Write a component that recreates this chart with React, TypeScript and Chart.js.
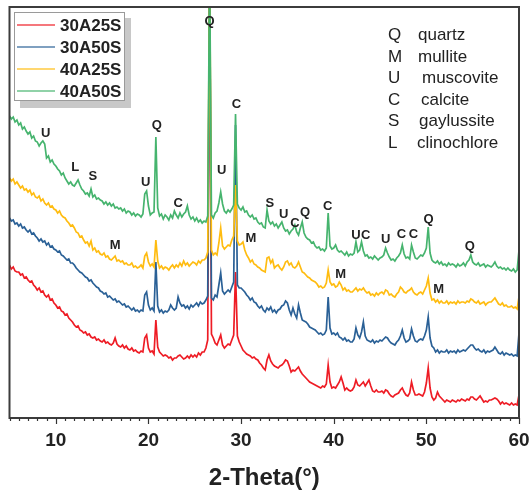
import { useEffect, useRef } from 'react';
import { Chart, registerables } from 'chart.js';

Chart.register(...registerables);

// 2-Theta sampling grid: 5.0 .. 60.0 in 0.2 degree steps (276 points)
const twoTheta: number[] = Array.from({ length: 276 }, (_, i) => Math.round((5 + i * 0.2) * 10) / 10);

const seriesNames = ['30A25S', '30A50S', '40A25S', '40A50S'];
const seriesColors = ['#EE1C25', '#2A6096', '#FFBC10', '#46B46E'];

// intensities (a.u.), one value per grid point
const i30A25S = [
  153,149,151,147,146, 146,143,144,140,141, 138,136,137,133,131, 128,130,126,127,123, 121,123,118,119,115,
  113,110,111,107,106, 103,104,100,98,96, 93,91,92,88,87, 85,86,83,84,81, 80,81,78,79,77,
  76,78,75,76,74, 73,75,80,74,72, 71,73,70,72,69, 68,70,67,68,66, 65,67,66,80,83,
  70,66,67,64,98, 71,66,64,62,63, 62,60,61,58,60, 60,62,63,61,59, 60,62,60,63,61,
  63,61,65,63,66, 66,70,78,460,84, 80,75,73,78,83, 73,70,72,74,73, 78,83,146,82,76,
  72,68,66,64,63, 62,60,61,59,58, 55,53,50,48,58, 63,57,54,52,51, 50,52,53,55,58,
  57,52,46,48,47, 49,51,47,44,42, 40,38,36,35,34, 33,32,31,30,32, 31,34,53,36,30,
  31,30,33,36,41, 35,28,30,28,27, 28,31,38,33,32, 34,36,32,35,38, 32,27,26,28,26,
  26,27,25,28,27, 24,22,21,23,24, 25,28,30,26,23, 22,25,36,28,23, 23,24,23,22,26,
  35,50,30,21,18, 20,26,22,20,18, 16,18,17,16,18, 17,16,18,17,19, 18,17,19,18,21,
  21,19,18,20,22, 19,16,17,16,18, 18,19,20,19,17, 14,16,14,15,14, 13,15,13,14,13,
  23,
];

const i30A50S = [
  200,197,198,194,195, 192,194,190,191,188, 186,188,184,185,182, 180,177,179,176,177, 173,175,171,172,169,
  168,166,167,163,162, 160,158,159,155,155, 153,150,148,146,145, 143,141,140,137,138, 135,133,131,130,127,
  126,124,125,121,122, 120,118,119,116,117, 115,113,114,111,112, 110,108,110,107,108, 106,108,107,123,126,
  113,108,110,107,156, 112,106,108,105,107, 106,108,113,110,108, 110,121,115,112,113, 110,112,109,113,111,
  113,115,112,116,114, 115,118,122,460,120, 118,123,121,133,145, 127,124,126,128,126, 131,136,293,133,130,
  130,128,126,123,121, 118,120,116,115,112, 110,112,108,106,110, 108,111,106,108,105, 108,109,112,113,117,
  115,108,103,110,104, 100,113,105,98,97, 96,94,91,90,89, 88,86,84,85,83, 84,88,121,90,84,
  85,83,85,81,80, 78,80,77,78,76, 76,79,90,83,80, 86,96,82,78,77, 76,78,75,77,76,
  78,77,79,81,80, 77,75,74,73,76, 78,82,88,80,76, 77,79,89,82,77, 76,78,79,78,82,
  88,101,80,72,70, 66,68,65,67,66, 66,68,65,67,66, 67,65,68,66,67, 68,67,69,71,73,
  73,70,68,69,67, 66,68,65,67,66, 67,68,71,68,65, 64,66,63,65,64, 63,64,62,63,62,
  85,
];

const i40A25S = [
  240,237,239,234,236, 233,230,232,228,229, 226,228,223,225,221, 220,222,217,219,215, 213,215,211,212,209,
  208,205,207,203,201, 200,197,195,192,193, 190,186,185,181,182, 178,175,176,172,177, 168,170,166,167,164,
  163,165,161,162,159, 158,160,162,157,158, 156,157,154,155,153, 153,155,151,152,150, 151,153,150,162,165,
  156,152,154,151,178, 157,150,152,149,151, 150,148,151,153,150, 153,151,155,152,157, 153,155,152,154,156,
  155,153,157,155,158, 158,160,166,460,168, 163,165,163,175,190, 172,169,171,173,172, 178,182,233,177,173,
  174,176,168,163,160, 156,158,154,153,151, 150,148,147,146,160, 161,155,158,150,152, 153,150,148,151,156,
  157,153,155,151,150, 152,156,151,146,145, 143,141,140,138,137, 136,134,131,132,130, 131,135,148,136,133,
  134,131,132,136,133, 128,130,127,128,126, 126,128,130,127,129, 128,130,127,125,126, 123,124,122,125,123,
  125,126,124,128,127, 123,124,122,121,124, 126,131,129,126,125, 127,128,130,126,124, 123,125,126,124,128,
  132,140,125,118,119, 116,118,115,117,115, 115,117,114,116,115, 116,114,117,115,116, 116,115,117,116,119,
  118,116,115,117,114, 115,116,113,115,116, 116,118,120,117,114, 113,115,112,113,111, 111,112,110,111,109,
  121,
];

const i40A50S = [
  302,299,301,296,298, 293,295,289,291,287, 284,286,280,282,277, 276,272,275,277,274, 260,262,256,258,254,
  252,249,247,243,245, 240,237,234,236,233, 232,235,238,233,229, 227,224,225,222,229, 221,223,219,220,218,
  217,214,216,213,215, 212,214,210,211,209, 210,207,209,205,207, 206,203,205,202,204, 203,201,204,224,227,
  212,203,205,206,281, 210,202,204,199,203, 201,198,203,200,207, 203,200,205,201,204, 206,212,203,199,201,
  197,200,196,198,195, 197,196,202,460,203, 200,205,207,215,226, 214,207,205,208,206, 209,213,304,214,210,
  208,211,206,207,203, 201,203,199,200,196, 194,195,191,190,208, 197,194,196,192,194, 190,193,196,190,187,
  188,184,187,189,193, 186,183,190,196,185, 181,179,178,175,176, 172,170,171,168,169, 167,170,205,172,169,
  170,173,168,166,167, 165,163,166,162,164, 163,165,176,166,168, 176,167,162,163,160, 161,159,162,160,158,
  160,161,163,170,165, 161,158,159,157,160, 162,165,173,164,160, 161,159,173,166,160, 159,161,163,162,165,
  170,191,165,158,156, 155,157,154,156,153, 154,152,155,153,154, 153,151,154,152,153, 155,152,156,158,163,
  156,154,153,155,152, 153,154,151,153,152, 151,153,156,152,150, 151,149,150,148,150, 148,147,149,146,148,
  168,
];

const seriesValues = [i30A25S, i30A50S, i40A25S, i40A50S];

const xTickLabels = [10, 20, 30, 40, 50, 60];
const xMin = 5;
const xMax = 60;
const yMax = 411;

const peakLabels = [
  { t: 'U', x: 8.9, y: 285 }, { t: 'L', x: 12.1, y: 251 }, { t: 'S', x: 14.0, y: 242 },
  { t: 'U', x: 19.7, y: 236 }, { t: 'Q', x: 20.9, y: 293 }, { t: 'Q', x: 26.6, y: 397 },
  { t: 'C', x: 23.2, y: 215 }, { t: 'U', x: 27.9, y: 248 }, { t: 'C', x: 29.5, y: 314 },
  { t: 'S', x: 33.1, y: 215 }, { t: 'U', x: 34.6, y: 204 }, { t: 'C', x: 35.8, y: 195 },
  { t: 'Q', x: 36.9, y: 206 }, { t: 'C', x: 39.35, y: 212 }, { t: 'U', x: 42.4, y: 183 },
  { t: 'C', x: 43.45, y: 183 }, { t: 'U', x: 45.6, y: 179 }, { t: 'C', x: 47.3, y: 184 },
  { t: 'C', x: 48.6, y: 184 }, { t: 'Q', x: 50.25, y: 199 }, { t: 'Q', x: 54.7, y: 172 },
  { t: 'M', x: 16.4, y: 173 }, { t: 'M', x: 31.05, y: 180 }, { t: 'M', x: 40.76, y: 144 },
  { t: 'M', x: 51.33, y: 129 },
];

const keyLetters = ['Q', 'M', 'U', 'C', 'S', 'L'];
const keyNames = ['quartz', 'mullite', 'muscovite', 'calcite', 'gaylussite', 'clinochlore'];

const FONT = 'Arial, "Liberation Sans", Helvetica, sans-serif';

function hexA(hex: string, a: number) {
  const n = parseInt(hex.slice(1), 16);
  return `rgba(${(n >> 16) & 255},${(n >> 8) & 255},${n & 255},${a})`;
}

const decorPlugin = {
  id: 'decor',
  afterDatasetsDraw(chart: any) {
    const { ctx, chartArea } = chart;
    const xs = chart.scales.x;
    const ys = chart.scales.y;
    ctx.save();
    // frame
    ctx.strokeStyle = '#3c3c3c';
    ctx.lineWidth = 2;
    ctx.strokeRect(chartArea.left, chartArea.top, chartArea.right - chartArea.left, chartArea.bottom - chartArea.top);
    // ticks
    ctx.lineWidth = 1.2;
    ctx.strokeStyle = '#333';
    for (let v = xMin; v <= xMax; v += 1) {
      const px = Math.round(xs.getPixelForValue(v)) + 0.5;
      const len = xTickLabels.includes(v) ? 6 : 3;
      ctx.beginPath();
      ctx.moveTo(px, chartArea.bottom);
      ctx.lineTo(px, chartArea.bottom + len);
      ctx.stroke();
    }
    // peak labels
    ctx.fillStyle = '#222';
    ctx.font = `bold 13px ${FONT}`;
    ctx.textAlign = 'center';
    ctx.textBaseline = 'middle';
    for (const p of peakLabels) {
      ctx.fillText(p.t, xs.getPixelForValue(p.x), ys.getPixelForValue(p.y));
    }
    // key
    ctx.font = `17px ${FONT}`;
    ctx.textAlign = 'left';
    const nameX = [418, 418, 422, 421, 419, 417];
    keyLetters.forEach((l, i) => {
      const y = 35.5 + i * 21.5;
      ctx.fillText(l, 388, y);
      ctx.fillText(keyNames[i], nameX[i], y);
    });
    // legend
    ctx.fillStyle = '#c8c8c8';
    ctx.fillRect(20, 18, 111, 90);
    ctx.fillStyle = '#fff';
    ctx.fillRect(14, 12, 111, 89);
    ctx.strokeStyle = '#9a9a9a';
    ctx.lineWidth = 1;
    ctx.strokeRect(14.5, 12.5, 110, 88);
    ctx.font = `bold 17px ${FONT}`;
    seriesNames.forEach((n, i) => {
      const y = 25 + i * 22;
      ctx.strokeStyle = hexA(seriesColors[i], 0.6);
      ctx.lineWidth = 2;
      ctx.beginPath();
      ctx.moveTo(17, y);
      ctx.lineTo(55, y);
      ctx.stroke();
      ctx.fillStyle = '#222';
      ctx.fillText(n, 60, y + 1);
    });
    ctx.restore();
  },
};

export default function App() {
  const ref = useRef<HTMLCanvasElement | null>(null);
  useEffect(() => {
    document.body.style.margin = '0';
    const canvas = ref.current;
    if (!canvas) return;
    const datasets = seriesValues.map((vals, i) => ({
      label: seriesNames[i],
      data: vals.map((v, j) => ({ x: twoTheta[j], y: v })),
      borderColor: seriesColors[i],
      backgroundColor: seriesColors[i],
      borderWidth: 1.7,
      pointRadius: 0,
      tension: 0,
      order: 4 - i,
    }));
    const chart = new Chart(canvas, {
      type: 'line',
      data: { datasets },
      options: {
        animation: false,
        responsive: true,
        maintainAspectRatio: false,
        layout: { padding: { left: 9.5, right: 12, top: 7, bottom: 0 } },
        plugins: { legend: { display: false }, tooltip: { enabled: false } },
        scales: {
          x: {
            type: 'linear',
            min: xMin,
            max: xMax,
            border: { display: false },
            grid: { display: false, drawTicks: false },
            afterBuildTicks: (axis: any) => {
              axis.ticks = xTickLabels.map((v) => ({ value: v }));
            },
            afterFit: (scale: any) => {
              scale.height = 77;
              scale.paddingLeft = 0;
              scale.paddingRight = 0;
            },
            ticks: {
              padding: 11,
              color: '#222',
              maxRotation: 0,
              autoSkip: false,
              font: { family: FONT, size: 19, weight: 'bold' },
            },
            title: {
              display: true,
              text: '2-Theta(°)',
              color: '#222',
              padding: { top: 0, bottom: 2 },
              font: { family: FONT, size: 24, weight: 'bold' },
            },
          },
          y: { display: false, min: 0, max: yMax },
        },
      },
      plugins: [decorPlugin],
    } as any);
    return () => chart.destroy();
  }, []);
  return (
    <div style={{ width: 531, height: 495, position: 'relative' }}>
      <canvas ref={ref} />
    </div>
  );
}
